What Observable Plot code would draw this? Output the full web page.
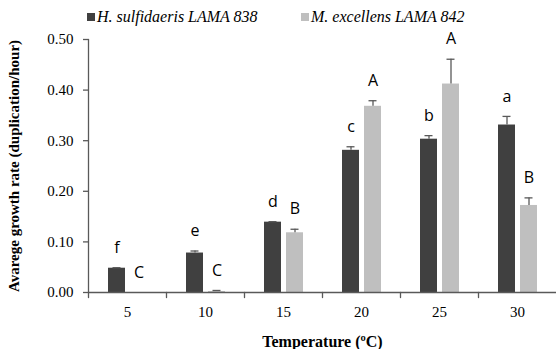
<!DOCTYPE html>
<html>
<head>
<meta charset="utf-8">
<script src="https://cdn.jsdelivr.net/npm/d3@7"></script>
<script src="https://cdn.jsdelivr.net/npm/@observablehq/plot@0.6"></script>
<style>
  body { margin: 0; background: #fff; width: 556px; height: 349px; overflow: hidden; }
  #legend { position: relative; height: 26px; font-family: "Liberation Serif", "Tinos", "Noto Serif", "DejaVu Serif", serif; font-style: italic; font-size: 16px; line-height: 16px; color: #000; }
  #legend .sw { position: absolute; top: 13px; width: 8px; height: 8px; }
  #legend .lb { position: absolute; top: 9px; white-space: nowrap; }
  svg text, svg g { font-family: "Liberation Serif", "Tinos", "Noto Serif", "DejaVu Serif", serif; }
  svg g.letters, svg g.letters text { font-family: "Open Sans", "Liberation Sans", sans-serif; }
  g[aria-label="y-axis label"] { font-weight: bold; font-size: 15px; }
  g[aria-label="fx-axis label"] { font-weight: bold; font-size: 16px; }
</style>
</head>
<body>
<div id="legend"></div>
<div id="chart"></div>
<script>
// ---- data ----
const temps = [5, 10, 15, 20, 25, 30];
const series = ["H. sulfidaeris LAMA 838", "M. excellens LAMA 842"];
const seriesColors = ["#404040", "#bfbfbf"];
const hValues = [0.048, 0.078, 0.139, 0.281, 0.303, 0.331];
const hErrors = [0.001, 0.004, 0.001, 0.007, 0.007, 0.017];
const hLetters = ["f", "e", "d", "c", "b", "a"];
const mValues = [0.000, 0.002, 0.118, 0.368, 0.412, 0.172];
const mErrors = [0.000, 0.002, 0.007, 0.011, 0.049, 0.015];
const mLetters = ["C", "C", "B", "A", "A", "B"];
const yTicks = [0, 0.1, 0.2, 0.3, 0.4, 0.5];
const yLabel = "Avarege growth rate (duplication/hour)";
const xLabel = "Temperature (ºC)";

// ---- table ----
const rows = [];
temps.forEach((t, i) => {
  rows.push({temp: t, series: series[0], value: hValues[i], err: hErrors[i], letter: hLetters[i]});
  rows.push({temp: t, series: series[1], value: mValues[i], err: mErrors[i], letter: mLetters[i]});
});
const errRows = rows.filter(d => d.err > 0);

// ---- legend ----
const legend = document.getElementById("legend");
const legendLeft = [87, 301];
series.forEach((s, i) => {
  const sw = document.createElement("div");
  sw.className = "sw";
  sw.style.left = legendLeft[i] + "px";
  sw.style.background = seriesColors[i];
  legend.appendChild(sw);
  const lb = document.createElement("div");
  lb.className = "lb";
  lb.style.left = (legendLeft[i] + 10) + "px";
  lb.textContent = s;
  legend.appendChild(lb);
});

const axisColor = "#595959";
const serif = "Liberation Serif, Tinos, Noto Serif, DejaVu Serif, serif";
const sans = "Open Sans, Liberation Sans, sans-serif";

const edgeShape = {draw(ctx, l) { ctx.moveTo(0, 0); ctx.lineTo(0, -l); }};

const plot = Plot.plot({
  width: 556,
  height: 323,
  marginLeft: 88,
  marginRight: 0,
  marginTop: 13,
  marginBottom: 57,
  style: {background: "#fff", color: "#000"},
  fx: {domain: temps, padding: 0},
  x: {domain: series, paddingInner: 5 / 22, paddingOuter: 19.5 / 22, axis: null},
  y: {domain: [0, 0.5]},
  color: {domain: series, range: seriesColors},
  marks: [
    Plot.barY(rows, {fx: "temp", x: "series", y: "value", fill: "series"}),
    Plot.ruleX(errRows, {fx: "temp", x: "series", y1: "value", y2: d => d.value + d.err, stroke: axisColor, strokeWidth: 1.3}),
    Plot.tickY(errRows, {fx: "temp", x: "series", y: d => d.value + d.err, stroke: axisColor, strokeWidth: 1.3, insetLeft: 4.5, insetRight: 4.5}),
    Plot.text(rows, {fx: "temp", x: "series", y: d => d.value + d.err, text: "letter", dy: -20, fontFamily: sans, fontSize: 16, fill: "#000", className: "letters"}),
    Plot.ruleY([0], {stroke: axisColor, strokeWidth: 1.3}),
    Plot.vector([0], {y: d => d, frameAnchor: "left", length: 5, rotate: 180, anchor: "start", shape: edgeShape, stroke: axisColor, strokeWidth: 1.3}),
    Plot.frame({anchor: "left", facetAnchor: "left", stroke: axisColor, strokeWidth: 1.3}),
    Plot.axisY({ticks: yTicks, tickFormat: d3.format(".2f"), tickSize: 5, tickPadding: 10, stroke: axisColor, strokeWidth: 1.3,
      fontSize: 15, fontFamily: serif, fill: "#000",
      label: yLabel, labelAnchor: "center", labelArrow: "none", labelOffset: 80}),
    Plot.axisFx({anchor: "bottom", tickSize: 0, tickPadding: 14, fontSize: 15, fontFamily: serif, fill: "#000",
      label: xLabel, labelAnchor: "center", labelArrow: "none", labelOffset: 54})
  ]
});
document.getElementById("chart").appendChild(plot);
</script>
</body>
</html>
